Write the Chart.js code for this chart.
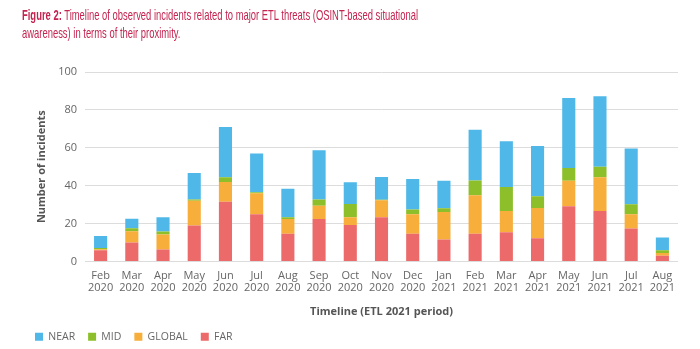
<!DOCTYPE html>
<html>
<head>
<meta charset="utf-8">
<script src="https://cdn.jsdelivr.net/npm/chart.js@4"></script>
<style>
  body { margin: 0; background: #fff; }
  #wrap { position: relative; width: 700px; height: 349px; }
  #titulo {
    position: absolute; left: 22px; top: 6px; z-index: 2;
    font-family: "Liberation Sans", Arial, sans-serif;
    font-size: 14.5px; line-height: 18px; color: #c4244f;
    white-space: nowrap; transform-origin: 0 0;
  }
  canvas { position: absolute; left: 0; top: 0; }
</style>
</head>
<body>
<div id="wrap">
  <div id="titulo"><b>Figure 2:</b> Timeline of observed incidents related to major ETL threats (OSINT-based situational<br>awareness) in terms of their proximity.</div>
  <canvas id="grafica" width="700" height="349"></canvas>
</div>
<script>
// Datos
const meses = [
    ["Feb", "2020"], ["Mar", "2020"], ["Apr", "2020"], ["May", "2020"], ["Jun", "2020"],
    ["Jul", "2020"], ["Aug", "2020"], ["Sep", "2020"], ["Oct", "2020"], ["Nov", "2020"],
    ["Dec", "2020"], ["Jan", "2021"], ["Feb", "2021"], ["Mar", "2021"], ["Apr", "2021"],
    ["May", "2021"], ["Jun", "2021"], ["Jul", "2021"], ["Aug", "2021"]
];
const far    = [6, 10, 6.3, 19, 31.5, 25, 14.7, 22.4, 19.3, 23.3, 14.7, 11.6, 14.7, 15.4, 12.3, 29.1, 26.6, 17.4, 3];
const global = [0.5, 6, 8, 13, 10.5, 11, 7.7, 7, 4, 9, 10.3, 14.5, 20.3, 11.2, 15.9, 13.5, 17.9, 7.5, 1.5];
const mid    = [0.6, 1.5, 1.5, 0.7, 2.5, 0.5, 1, 3.3, 7, 0.3, 2.5, 2, 7.8, 12.7, 6.2, 6.7, 5.5, 5.3, 1.5];
const near   = [6.4, 5, 7.5, 14, 26.5, 20.5, 15, 26, 11.5, 12, 16, 14.5, 26.7, 24.2, 26.6, 37, 37.2, 29.4, 6.6];

// Titulo angosto (la fuente original es condensada)
const titulo = document.getElementById("titulo");
const anchoTitulo = titulo.getBoundingClientRect().width;
titulo.style.transform = `scaleX(${396 / anchoTitulo})`;

const fuente = "'Open Sans', sans-serif";
const gris = "#666";

new Chart(document.getElementById("grafica"), {
    type: "bar",
    data: {
        labels: meses,
        datasets: [
            { label: "FAR", data: far, backgroundColor: "#ec6a6a" },
            { label: "GLOBAL", data: global, backgroundColor: "#f8ae3a" },
            { label: "MID", data: mid, backgroundColor: "#8cbf2a" },
            { label: "NEAR", data: near, backgroundColor: "#4fb8e8" }
        ]
    },
    options: {
        responsive: false,
        animation: false,
        layout: { padding: { top: 72, left: 22, right: 22, bottom: -3 } },
        datasets: { bar: { barPercentage: 0.84, categoryPercentage: 0.5, borderWidth: 0 } },
        plugins: {
            legend: {
                position: "bottom",
                align: "start",
                reverse: true,
                labels: {
                    boxWidth: 8, boxHeight: 8, padding: 13,
                    color: gris, font: { family: fuente, size: 10.5 }
                }
            },
            tooltip: { enabled: false }
        },
        scales: {
            x: {
                stacked: true,
                grid: { display: false, drawTicks: false },
                border: { display: false },
                ticks: { color: gris, font: { family: fuente, size: 11, lineHeight: 1.1 }, padding: 8, maxRotation: 0, autoSkip: false },
                title: {
                    display: true, text: "Timeline (ETL 2021 period)", color: "#555",
                    font: { family: fuente, size: 11, weight: "bold" }, padding: { top: 8, bottom: 0 }
                },
                afterFit: (escala) => { escala.height = 57; }
            },
            y: {
                stacked: true,
                min: 0, max: 100,
                grid: { color: "#dcdcdc", drawTicks: false },
                border: { display: false },
                ticks: { stepSize: 20, color: gris, font: { family: fuente, size: 11 }, padding: 8 },
                title: {
                    display: true, text: "Number of incidents", color: "#555",
                    font: { family: fuente, size: 11, weight: "bold" }, padding: { top: 13, bottom: 0 }
                },
                afterFit: (escala) => { escala.width = 63; }
            }
        }
    }
});
</script>
</body>
</html>
